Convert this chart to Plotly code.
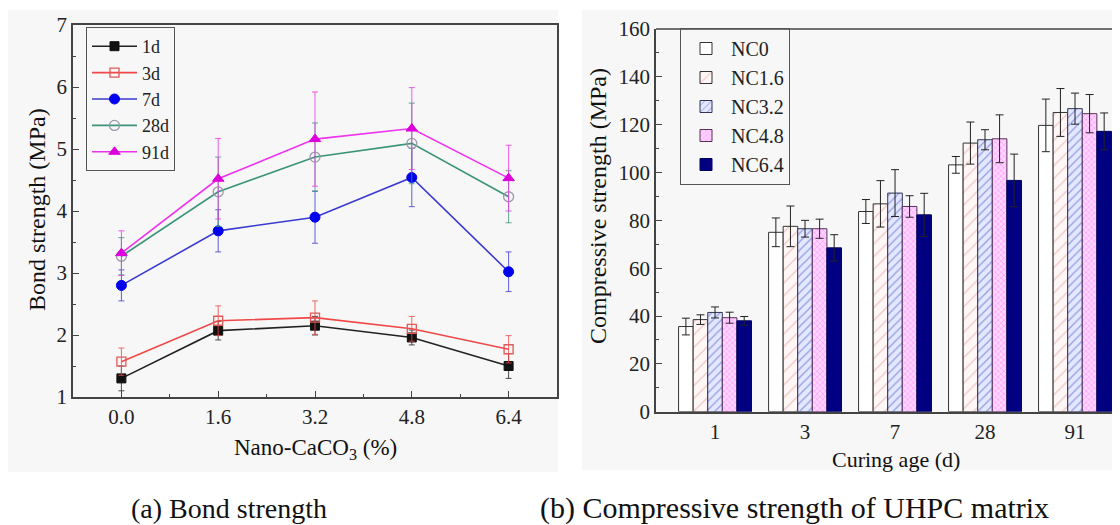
import plotly.graph_objects as go

# ---------------- data ----------------
nano = [0.0, 1.6, 3.2, 4.8, 6.4]
ages_left = ["1d", "3d", "7d", "28d", "91d"]
bond_1d = [1.30, 2.07, 2.15, 1.96, 1.50]
bond_3d = [1.57, 2.23, 2.28, 2.10, 1.77]
bond_7d = [2.80, 3.68, 3.90, 4.54, 3.02]
bond_28d = [3.27, 4.31, 4.87, 5.09, 4.23]
bond_91d = [3.32, 4.52, 5.16, 5.33, 4.53]
err_1d = [0.20, 0.15, 0.15, 0.12, 0.20]
err_3d = [0.22, 0.24, 0.27, 0.20, 0.22]
err_7d = [0.25, 0.34, 0.42, 0.47, 0.32]
err_28d = [0.30, 0.56, 0.55, 0.65, 0.42]
err_91d = [0.36, 0.65, 0.76, 0.66, 0.53]

curing_age = ["1", "3", "7", "28", "91"]
groups = ["NC0", "NC1.6", "NC3.2", "NC4.8", "NC6.4"]
comp_nc0 = [35.6, 75.0, 83.7, 103.2, 119.7]
comp_nc16 = [38.5, 77.5, 86.9, 112.3, 125.1]
comp_nc32 = [41.5, 76.5, 91.4, 113.7, 126.7]
comp_nc48 = [39.3, 76.5, 85.8, 114.1, 124.6]
comp_nc64 = [38.0, 68.5, 82.3, 96.7, 117.2]
cerr_nc0 = [3.5, 6.0, 5.0, 3.5, 11.0]
cerr_nc16 = [2.0, 8.5, 9.7, 8.8, 10.0]
cerr_nc32 = [2.3, 3.5, 9.8, 4.2, 6.5]
cerr_nc48 = [2.3, 4.0, 4.5, 10.0, 8.0]
cerr_nc64 = [1.8, 5.5, 9.0, 11.0, 7.7]

W, H = 1120, 525
OFF = 8  # page body margin offset
FONT = "Liberation Serif, Times New Roman, serif"


def px(x):
    return (x - OFF) / W


def py(y):
    return 1 - (y - OFF) / H


fig = go.Figure()

# ---------------- left: bond strength ----------------
left_series = [
    (ages_left[0], bond_1d, err_1d, "#222222", dict(symbol="square", color="#111111", size=9, line=dict(color="#111111", width=1))),
    (ages_left[1], bond_3d, err_3d, "#f04848", dict(symbol="square-open", color="#e05a5a", size=9, line=dict(width=1.3))),
    (ages_left[2], bond_7d, err_7d, "#3a3ad0", dict(symbol="circle", color="#0000ee", size=10, line=dict(color="#0000ee", width=1))),
    (ages_left[3], bond_28d, err_28d, "#3a9478", dict(symbol="circle-open", color="#9a9aaa", size=10, line=dict(width=1.3))),
    (ages_left[4], bond_91d, err_91d, "#ee33ee", dict(symbol="triangle-up", color="#dd00dd", size=10, line=dict(color="#dd00dd", width=1))),
]
for name, ys, es, col, mk in left_series:
    fig.add_trace(go.Scatter(
        x=nano, y=ys, name=name, mode="lines+markers",
        line=dict(color=col, width=1.6), marker=mk,
        error_y=dict(type="data", array=es, color=col, thickness=0.8, width=3),
        xaxis="x", yaxis="y", legend="legend",
    ))

# ---------------- right: compressive strength ----------------
bar_series = [
    (groups[0], comp_nc0, cerr_nc0, dict(color="#ffffff", line=dict(color="#333333", width=1))),
    (groups[1], comp_nc16, cerr_nc16, dict(color="#fff4f4", line=dict(color="#333333", width=1),
                                           pattern=dict(shape="/", fgcolor="#e09a9a", bgcolor="#fff6f6", size=9, solidity=0.15))),
    (groups[2], comp_nc32, cerr_nc32, dict(color="#dfe6ff", line=dict(color="#333355", width=1),
                                           pattern=dict(shape="/", fgcolor="#4848c0", bgcolor="#e2e8ff", size=6, solidity=0.2))),
    (groups[3], comp_nc48, cerr_nc48, dict(color="#ffc8ff", line=dict(color="#553355", width=1),
                                           pattern=dict(shape="x", fgcolor="#ff55ff", bgcolor="#ffd6ff", size=4, solidity=0.3))),
    (groups[4], comp_nc64, cerr_nc64, dict(color="#000080", line=dict(color="#000060", width=1))),
]
for name, ys, es, mk in bar_series:
    fig.add_trace(go.Bar(
        x=curing_age, y=ys, name=name, marker=mk,
        error_y=dict(type="data", array=es, color="#222222", thickness=1, width=4),
        xaxis="x2", yaxis="y2", legend="legend2",
    ))

axis_common = dict(
    showline=True, linecolor="#444444", linewidth=1.5, ticklen=6,
    tickcolor="#444444", showgrid=False, zeroline=False, automargin=False,
    tickfont=dict(family=FONT, size=21, color="#222222"),
)

fig.update_layout(
    width=W, height=H,
    margin=dict(l=0, r=0, t=0, b=0, pad=0, autoexpand=False),
    paper_bgcolor="#ffffff",
    plot_bgcolor="#fafafa",
    font=dict(family=FONT, color="#222222"),
    barmode="group", bargap=0.19, bargroupgap=0,
    xaxis=dict(domain=[px(73), px(557)], range=[-0.8, 7.2], anchor="y",
               tick0=0, dtick=1.6, tickformat=".1f", mirror=True, ticks="inside",
               minor=dict(dtick=0.8, ticks="inside", ticklen=3, tickcolor="#444444"),
               **axis_common),
    yaxis=dict(domain=[py(397), py(25)], range=[1, 7], anchor="x", dtick=1, mirror=True, ticks="inside",
               minor=dict(dtick=0.5, ticks="inside", ticklen=3, tickcolor="#444444"),
               **axis_common),
    xaxis2=dict(domain=[px(656), px(1120)], range=[-0.656, 4.5], anchor="y2", type="category",
                mirror=False, ticks="", **axis_common),
    yaxis2=dict(domain=[py(411.7), py(29)], range=[0, 160], anchor="x2", dtick=20, mirror=False, ticks="inside",
                minor=dict(dtick=10, ticks="inside", ticklen=3, tickcolor="#444444"),
                **axis_common),
    legend=dict(x=px(86), y=py(27), xanchor="left", yanchor="top",
                bordercolor="#555555", borderwidth=1, bgcolor="rgba(0,0,0,0)",
                font=dict(family=FONT, size=18, color="#222222"), itemwidth=45, tracegroupgap=0),
    legend2=dict(x=px(680), y=py(28), xanchor="left", yanchor="top",
                 bordercolor="#555555", borderwidth=1, bgcolor="rgba(0,0,0,0)",
                 font=dict(family=FONT, size=20, color="#222222"), itemwidth=40, tracegroupgap=0),
    showlegend=True,
)

# panel backgrounds
fig.add_shape(type="rect", xref="paper", yref="paper", x0=px(8), x1=px(558), y0=py(472), y1=py(10),
              fillcolor="#f7f7f7", line=dict(width=0), layer="below")
fig.add_shape(type="rect", xref="paper", yref="paper", x0=px(582), x1=1.0, y0=py(470), y1=py(10),
              fillcolor="#f7f7f7", line=dict(width=0), layer="below")
# top frame line for right plot
fig.add_shape(type="line", xref="paper", yref="paper", x0=px(656), x1=1.0, y0=py(29), y1=py(29),
              line=dict(color="#444444", width=1.5))

annotations = [
    dict(text="Bond strength (MPa)", x=px(37), y=py(210), textangle=-90, font=dict(size=24)),
    dict(text="Nano-CaCO<sub>3</sub> (%)", x=px(315), y=py(449), font=dict(size=23)),
    dict(text="Compressive strength (MPa)", x=px(598), y=py(206), textangle=-90, font=dict(size=24)),
    dict(text="Curing age (d)", x=px(896), y=py(459), font=dict(size=22)),
    dict(text="(a) Bond strength", x=px(229), y=py(508), font=dict(size=28)),
    dict(text="(b) Compressive strength of UHPC matrix", x=px(795), y=py(508), font=dict(size=30)),
]
for a in annotations:
    a.update(xref="paper", yref="paper", showarrow=False, xanchor="center", yanchor="middle")
    a["font"].update(family=FONT, color="#111111")
    fig.add_annotation(**a)

fig.write_html("out.html")
